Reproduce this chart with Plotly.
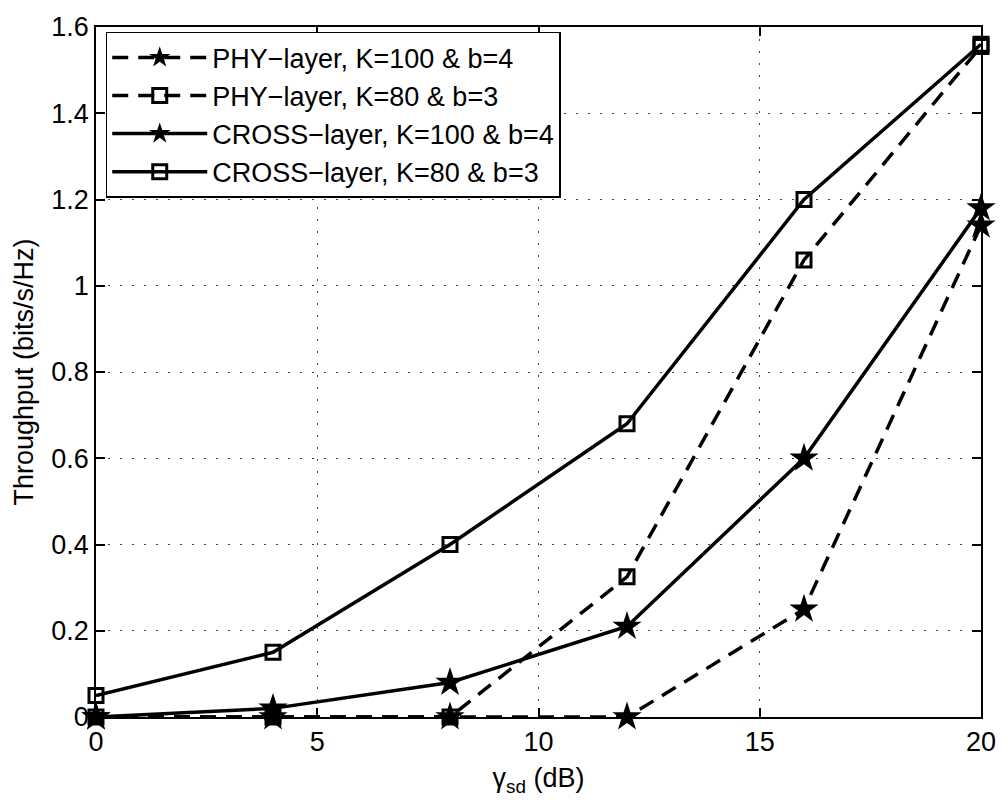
import plotly.graph_objects as go

# SNR values (dB)
snr_db = [0, 4, 8, 12, 16, 20]

# Throughput (bits/s/Hz) per scheme
phy_k100_b4 = [0.0, 0.0, 0.0, 0.0, 0.25, 1.14]
phy_k80_b3 = [0.0, 0.0, 0.0, 0.325, 1.06, 1.555]
cross_k100_b4 = [0.0, 0.02, 0.08, 0.21, 0.60, 1.18]
cross_k80_b3 = [0.05, 0.15, 0.40, 0.68, 1.20, 1.56]

series_names = [
    "PHY\u2212layer, K=100 &amp; b=4",
    "PHY\u2212layer, K=80 &amp; b=3",
    "CROSS\u2212layer, K=100 &amp; b=4",
    "CROSS\u2212layer, K=80 &amp; b=3",
]

x_ticks = [0, 5, 10, 15, 20]
y_ticks = [0, 0.2, 0.4, 0.6, 0.8, 1.0, 1.2, 1.4, 1.6]
y_tick_text = ["0", "0.2", "0.4", "0.6", "0.8", "1", "1.2", "1.4", "1.6"]

FONT = dict(family="Liberation Sans, Arial, sans-serif", size=27, color="black")
DASH = "16px,10px"

fig = go.Figure()

styles = [
    (phy_k100_b4, DASH, "star", 22),
    (phy_k80_b3, DASH, "square-open", 14),
    (cross_k100_b4, "solid", "star", 22),
    (cross_k80_b3, "solid", "square-open", 14),
]

for (vals, dash, symbol, msize), name in zip(styles, series_names):
    fig.add_trace(go.Scatter(
        x=snr_db, y=vals, name=name, mode="lines+markers",
        line=dict(color="black", width=3.5, dash=dash),
        marker=dict(symbol=symbol, size=msize, color="black",
                    line=dict(color="black", width=3 if "open" in symbol else 0)),
        cliponaxis=False,
    ))

axis_common = dict(
    showline=True, linecolor="black", linewidth=1.5, mirror="ticks",
    ticks="inside", ticklen=9, tickwidth=1.5, tickcolor="black",
    showgrid=True, gridcolor="#444", gridwidth=1, griddash="2px,10px",
    zeroline=False, tickfont=FONT,
)

fig.update_xaxes(range=[0, 20], tickvals=x_ticks, **axis_common,
                 title=dict(text="\u03b3<sub>sd</sub> (dB)", font=FONT, standoff=12))
fig.update_yaxes(range=[0, 1.6], tickvals=y_ticks, ticktext=y_tick_text, **axis_common,
                 title=dict(text="Throughput (bits/s/Hz)", font=FONT, standoff=10))

fig.update_layout(
    width=1008, height=800,
    margin=dict(l=96, r=18, t=16, b=80),
    paper_bgcolor="white", plot_bgcolor="white",
    font=FONT,
    showlegend=True,
    legend=dict(
        x=0.011, y=0.993, xanchor="left", yanchor="top",
        bgcolor="white", bordercolor="black", borderwidth=1.5,
        font=FONT, itemwidth=95, tracegroupgap=0,
    ),
)

fig.write_html("out.html")
